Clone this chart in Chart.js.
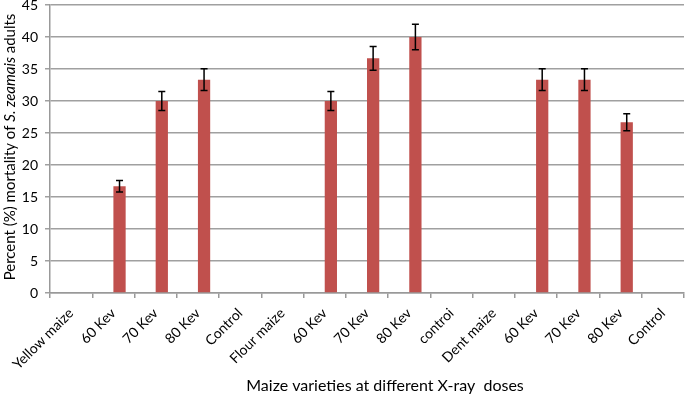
<!DOCTYPE html>
<html>
<head>
<meta charset="utf-8">
<script src="https://cdn.jsdelivr.net/npm/chart.js@4/dist/chart.umd.min.js"></script>
<style>
  html, body { margin: 0; padding: 0; background: #ffffff; }
  #wrap { width: 685px; height: 400px; }
</style>
</head>
<body>
<div id="wrap"><canvas id="c" width="685" height="400"></canvas></div>
<script>
// ---- Data ----
const categories = ["Yellow maize", "60 Kev", "70 Kev", "80 Kev", "Control",
                    "Flour maize", "60 Kev", "70 Kev", "80 Kev", "controi",
                    "Dent maize", "60 Kev", "70 Kev", "80 Kev", "Control"];
const mortality = [0, 16.67, 30, 33.33, 0, 0, 30, 36.67, 40, 0, 0, 33.33, 33.33, 26.67, 0];
const errorValues = [0, 0.9, 1.5, 1.7, 0, 0, 1.5, 1.85, 2.0, 0, 0, 1.7, 1.7, 1.33, 0];
const emptySeries = [0, 0, 0, 0, 0, 0, 0, 0, 0, 0, 0, 0, 0, 0, 0];
const yTicks = [0, 5, 10, 15, 20, 25, 30, 35, 40, 45];
const xTitle = "Maize varieties at different X-ray  doses";
const yTitleParts = [
  { text: "Percent (%) mortality of ", italic: false },
  { text: "S. zeamais", italic: true },
  { text: " adults", italic: false }
];

const FONT = "Lato, 'Open Sans', sans-serif";

const errorBarPlugin = {
  id: 'errorBars',
  afterDatasetsDraw(chart) {
    const ctx = chart.ctx;
    const meta = chart.getDatasetMeta(1);
    const y = chart.scales.y;
    ctx.save();
    ctx.strokeStyle = '#000000';
    ctx.lineWidth = 1.5;
    meta.data.forEach((bar, i) => {
      const err = errorValues[i];
      if (!err) return;
      const v = mortality[i];
      const x = bar.x;
      const yTop = y.getPixelForValue(v + err);
      const yBot = y.getPixelForValue(v - err);
      ctx.beginPath();
      ctx.moveTo(x, yTop); ctx.lineTo(x, yBot);
      ctx.moveTo(x - 3.5, yTop); ctx.lineTo(x + 3.5, yTop);
      ctx.moveTo(x - 3.5, yBot); ctx.lineTo(x + 3.5, yBot);
      ctx.stroke();
    });
    ctx.restore();
  }
};

const titlesPlugin = {
  id: 'titles',
  afterDraw(chart) {
    const ctx = chart.ctx;
    ctx.save();
    ctx.fillStyle = '#000000';
    // x-axis title
    ctx.font = "16px " + FONT;
    ctx.textAlign = 'center';
    ctx.textBaseline = 'middle';
    ctx.fillText(xTitle, 385, 386);
    // y-axis title, mixed italic
    const size = 15;
    const fonts = yTitleParts.map(p => (p.italic ? "italic " : "") + size + "px " + FONT);
    let total = 0;
    const widths = yTitleParts.map((p, k) => { ctx.font = fonts[k]; const w = ctx.measureText(p.text).width; total += w; return w; });
    ctx.translate(10, 147);
    ctx.rotate(-Math.PI / 2);
    ctx.textAlign = 'left';
    let xs = -total / 2;
    yTitleParts.forEach((p, k) => { ctx.font = fonts[k]; ctx.fillText(p.text, xs, 0); xs += widths[k]; });
    ctx.restore();
  }
};

new Chart(document.getElementById('c'), {
  type: 'bar',
  data: {
    labels: categories,
    datasets: [
      { label: 'blank', data: emptySeries, backgroundColor: 'rgba(0,0,0,0)', borderWidth: 0 },
      { label: 'Mortality', data: mortality, backgroundColor: '#C0504D', borderWidth: 0 }
    ]
  },
  options: {
    responsive: false,
    animation: false,
    devicePixelRatio: 1,
    categoryPercentage: 0.58,
    barPercentage: 1.0,
    layout: { padding: { top: 5, right: 1, left: 0, bottom: 0 } },
    plugins: { legend: { display: false }, tooltip: { enabled: false } },
    scales: {
      x: {
        offset: true,
        grid: { display: true, drawOnChartArea: false, offset: true, tickLength: 5, color: '#999999', lineWidth: 1.5 },
        border: { display: true, color: '#999999', width: 1.5 },
        ticks: { color: '#000000', font: { family: FONT, size: 14 }, minRotation: 45, maxRotation: 45, autoSkip: false, padding: 7 },
        afterFit(s) { s.height = 107; s.paddingLeft = 0; s.paddingRight = 0; }
      },
      y: {
        min: 0, max: 45,
        afterBuildTicks(s) { s.ticks = yTicks.map(v => ({ value: v })); },
        grid: { color: '#a0a0a0', lineWidth: 1.5, tickLength: 5 },
        border: { display: true, color: '#999999', width: 1.5 },
        ticks: { color: '#000000', font: { family: FONT, size: 14 }, padding: 7 },
        afterFit(s) { s.width = 50; s.paddingTop = 0; s.paddingBottom = 0; }
      }
    }
  },
  plugins: [errorBarPlugin, titlesPlugin]
});
</script>
</body>
</html>
